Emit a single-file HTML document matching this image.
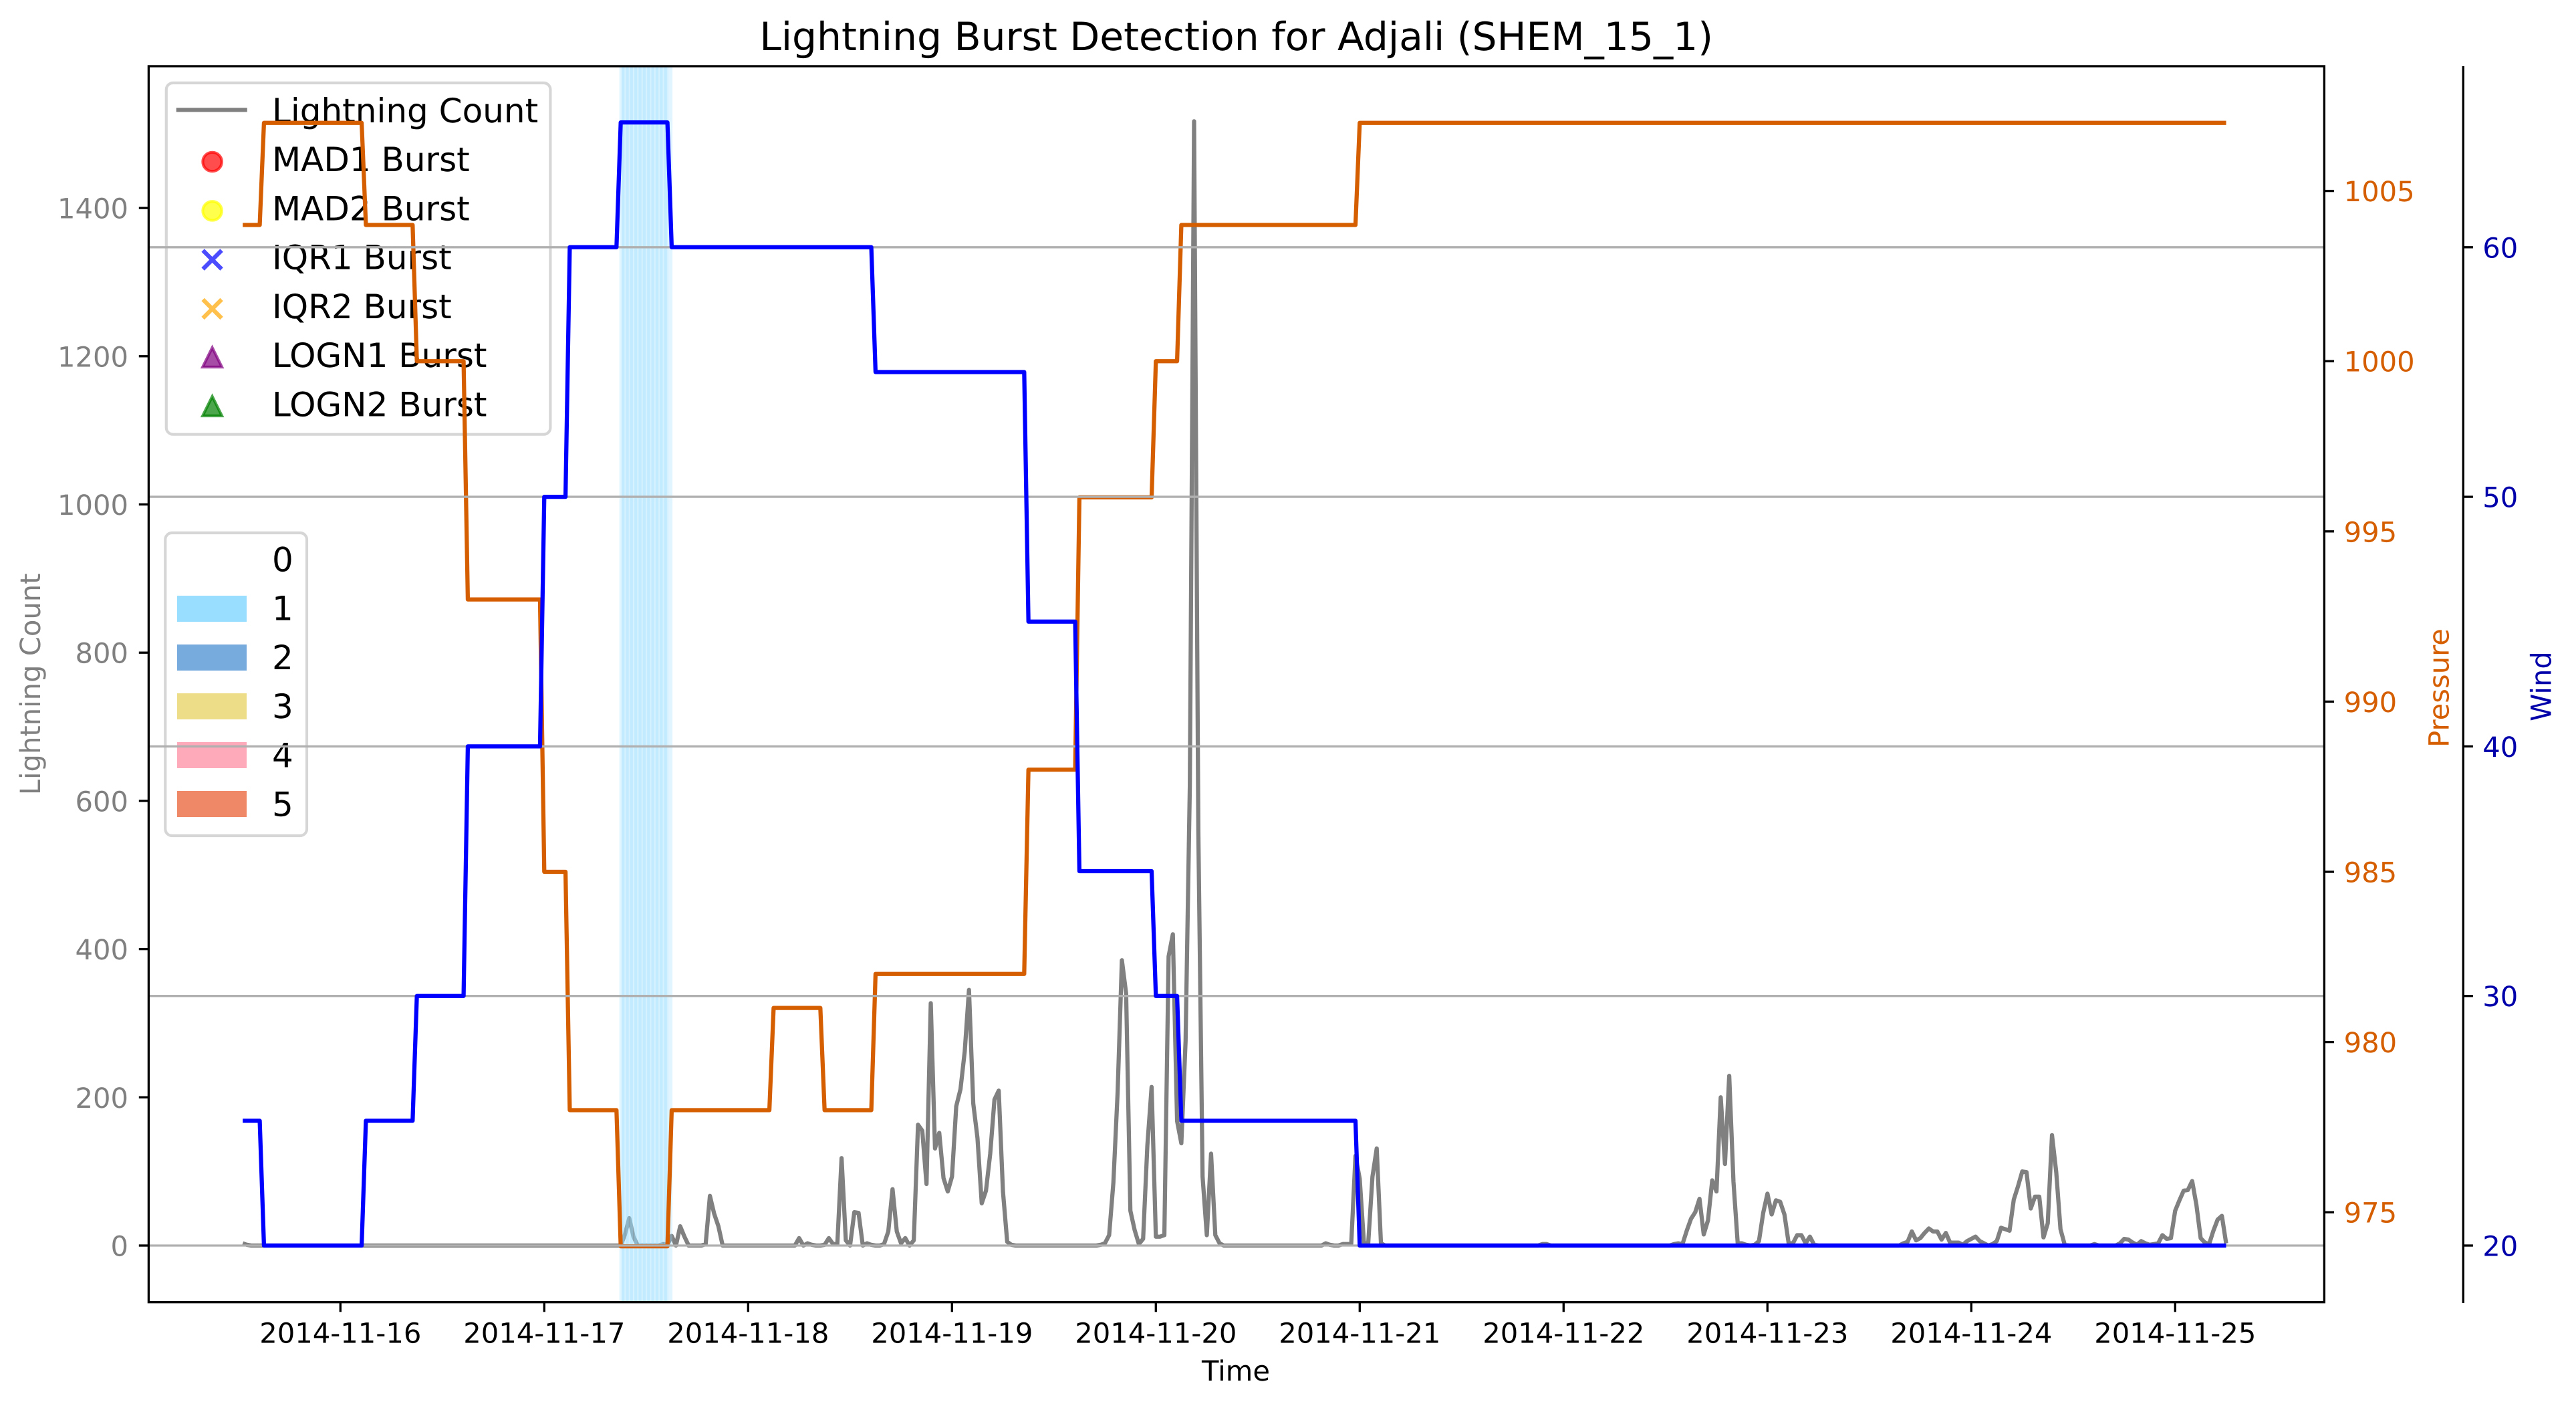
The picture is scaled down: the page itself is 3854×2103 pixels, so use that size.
<!DOCTYPE html>
<html lang="en">
<head>
<meta charset="utf-8">
<title>Lightning Burst Detection for Adjali (SHEM_15_1)</title>
<style>
html,body{margin:0;padding:0;background:#fff;}
svg{display:block;}
text{font-family:"DejaVu Sans","Liberation Sans",sans-serif;text-rendering:geometricPrecision;}
</style>
</head>
<body>
<svg id="chart" xmlns="http://www.w3.org/2000/svg" width="3854" height="2103" viewBox="0 0 3854 2103">
  <rect x="0" y="0" width="3854" height="2103" fill="#ffffff"/>
  <text x="1849.7" y="75" font-size="58.33" text-anchor="middle" fill="#000">Lightning Burst Detection for Adjali (SHEM_15_1)</text>
  <g id="lightning-layer"></g>
  <g id="shading-layer"></g>

  <g>
    <rect x="248.8" y="124" width="574.6" height="525.7" rx="10" ry="10" fill="#ffffff" fill-opacity="0.8" stroke="#d6d6d6" stroke-width="4.17"/>
    <line x1="263.7" y1="164.4" x2="369.8" y2="164.4" stroke="#808080" stroke-width="6.25"/>
    <text x="407" y="183" font-size="50">Lightning Count</text>
    <circle cx="317.6" cy="242" r="14.2" fill="#ff0000" fill-opacity="0.7" stroke="#ff0000" stroke-opacity="0.7" stroke-width="4.17"/>
    <text x="407" y="256" font-size="50">MAD1 Burst</text>
    <circle cx="317.6" cy="315.4" r="14.2" fill="#ffff00" fill-opacity="0.7" stroke="#ffff00" stroke-opacity="0.7" stroke-width="4.17"/>
    <text x="407" y="329.3" font-size="50">MAD2 Burst</text>
    <path d="M303.6 374.5 L331.6 402.5 M331.6 374.5 L303.6 402.5" stroke="#0000ff" stroke-opacity="0.7" stroke-width="6.25" fill="none"/>
    <text x="407" y="402.6" font-size="50">IQR1 Burst</text>
    <path d="M303.6 447.9 L331.6 475.9 M331.6 447.9 L303.6 475.9" stroke="#ffa500" stroke-opacity="0.7" stroke-width="6.25" fill="none"/>
    <text x="407" y="475.9" font-size="50">IQR2 Burst</text>
    <path d="M317.6 520 L332 549 L303.2 549 Z" fill="#800080" fill-opacity="0.7" stroke="#800080" stroke-opacity="0.7" stroke-width="4.17"/>
    <text x="407" y="549.2" font-size="50">LOGN1 Burst</text>
    <path d="M317.6 593 L332 622 L303.2 622 Z" fill="#008000" fill-opacity="0.7" stroke="#008000" stroke-opacity="0.7" stroke-width="4.17"/>
    <text x="407" y="622.5" font-size="50">LOGN2 Burst</text>
  </g>

  <g>
    <rect x="247.3" y="797" width="211.7" height="453" rx="10" ry="10" fill="#ffffff" fill-opacity="0.8" stroke="#d6d6d6" stroke-width="4.17"/>
    <text x="407" y="854.5" font-size="50">0</text>
    <rect x="265" y="891" width="104" height="39" fill="#99ddff"/>
    <text x="407" y="927.7" font-size="50">1</text>
    <rect x="265" y="964" width="104" height="39" fill="#77aadd"/>
    <text x="407" y="1000.9" font-size="50">2</text>
    <rect x="265" y="1037" width="104" height="39" fill="#eedd88"/>
    <text x="407" y="1074.1" font-size="50">3</text>
    <rect x="265" y="1110" width="104" height="39" fill="#ffaabb"/>
    <text x="407" y="1147.3" font-size="50">4</text>
    <rect x="265" y="1183" width="104" height="39" fill="#ee8866"/>
    <text x="407" y="1220.5" font-size="50">5</text>
  </g>

  <g id="pressure-layer"></g>
  <g id="grid-layer"></g>
  <g id="wind-layer"></g>

  <g fill="none" stroke="#000" stroke-width="3.33">
    <rect x="222.4" y="99" width="3255" height="1848.7"/>
    <line x1="3685.3" y1="99" x2="3685.3" y2="1949"/>
  </g>
  <g id="ticks-layer"></g>

  <text x="1849" y="2065" font-size="41.67" text-anchor="middle">Time</text>
  <text transform="translate(60,1023.4) rotate(-90)" font-size="41.67" text-anchor="middle" fill="#808080">Lightning Count</text>
  <text transform="translate(3663.5,1029) rotate(-90)" font-size="41.67" text-anchor="middle" fill="#d55e00">Pressure</text>
  <text transform="translate(3816.7,1026.5) rotate(-90)" font-size="41.67" text-anchor="middle" fill="#0000aa">Wind</text>
</svg>

<script>
// Half-hourly lightning counts, first sample at 2014-11-15 12:30
const lightningCounts = [
3,1,0,0,0,0,0,0,0,0,0,0,0,0,0,0,0,0,0,0,0,0,0,0,
0,0,0,0,0,0,0,0,0,0,0,0,0,0,0,0,0,0,0,0,0,0,0,0,
0,0,0,0,0,0,0,0,0,0,0,0,0,0,0,0,0,0,0,0,0,0,0,0,
0,0,0,0,0,0,0,0,0,0,0,0,0,0,0,0,0,0,15,37,12,0,0,0,
0,0,0,2,1,13,0,26,12,0,0,0,0,2,67,43,26,0,0,0,0,0,0,0,
0,0,0,0,0,0,0,0,0,0,0,10,0,3,1,0,0,1,10,2,2,118,7,0,
45,44,0,3,1,0,0,2,19,76,19,3,10,0,7,163,155,83,327,131,152,91,73,93,
188,211,262,345,192,145,57,74,124,197,209,73,5,1,0,0,0,0,0,0,0,0,0,0,
0,0,0,0,0,0,0,0,0,0,1,3,14,85,207,385,340,47,21,2,9,135,214,12,
12,14,390,420,168,138,276,620,1517,560,93,14,124,14,3,0,0,0,0,0,0,0,0,0,
0,0,0,0,0,0,0,0,0,0,0,0,0,0,0,3,1,0,0,2,2,2,121,90,
3,3,93,131,3,0,0,0,0,0,0,0,0,0,0,0,0,0,0,0,0,0,0,0,
0,0,0,0,0,0,0,0,0,0,0,0,0,0,0,0,0,0,2,2,0,0,0,0,
0,0,0,0,0,0,0,0,0,0,0,0,0,0,0,0,0,0,0,0,0,0,0,0,
0,2,3,2,20,36,45,63,15,34,88,73,200,110,229,86,3,3,1,0,1,6,44,70,
42,61,59,42,3,3,14,14,3,12,1,0,0,0,0,0,0,0,0,0,0,0,0,0,
0,0,0,0,0,0,0,3,5,19,7,10,17,23,19,19,8,17,4,4,4,1,6,9,
12,6,3,0,2,6,24,22,20,62,80,100,99,50,66,66,11,30,149,99,22,1,0,0,
0,0,0,0,2,0,0,0,0,0,3,9,8,4,1,6,3,1,2,3,14,9,10,47,
61,74,75,87,55,10,4,2,20,35,40,3
];
const lightningStartHour = -11.5;
const sampleStepHours = 0.5;

// Hours after 2014-11-16 00:00 at which each variable reaches a new value
const seriesEndHour = 222;
const pressureStart = 1004;
const pressureChangeHours = [-9, 3, 9, 15, 24, 27, 33, 39, 51, 57, 63, 81, 87, 96, 99, 120];
const pressureValues = [1007, 1004, 1000, 993, 985, 978, 974, 978, 981, 978, 982, 988, 996, 1000, 1004, 1007];
const windStart = 25;
const windChangeHours = [-9, 3, 9, 15, 24, 27, 33, 39, 63, 81, 87, 96, 99, 120];
const windValues = [20, 25, 30, 40, 50, 60, 65, 60, 55, 45, 35, 30, 25, 20];

// Storm category shading cells (half-hourly)
const categoryStartHour = 33;
const categoryCells = [1, 1, 1, 1, 1, 1, 1, 1, 1, 1, 1];

// Tick labels
const dateTickLabels = ['2014-11-16', '2014-11-17', '2014-11-18', '2014-11-19', '2014-11-20', '2014-11-21', '2014-11-22', '2014-11-23', '2014-11-24', '2014-11-25'];
const countTicks = [0, 200, 400, 600, 800, 1000, 1200, 1400];
const pressureTicks = [975, 980, 985, 990, 995, 1000, 1005];
const windTicks = [20, 30, 40, 50, 60];

const categoryColors = {1: '#99ddff', 2: '#77aadd', 3: '#eedd88', 4: '#ffaabb', 5: '#ee8866'};

const SVG_NS = 'http://www.w3.org/2000/svg';
const PLOT_LEFT = 222.4, PLOT_RIGHT = 3477.4, PLOT_TOP = 99, PLOT_BOTTOM = 1947.7, WIND_SPINE = 3685.3;

function xOfHour(h) { return 509.3 + h * (305 / 24); }
function yOfCount(v) { return 1863 - v * 1.1085; }
function yOfPressure(p) { return 285.6 + (1005 - p) * 50.92; }
function yOfWind(w) { return 1863 - (w - 20) * 37.33; }

function make(tag, attrs, parent) {
  const el = document.createElementNS(SVG_NS, tag);
  Object.keys(attrs).forEach(function (k) { el.setAttribute(k, attrs[k]); });
  parent.appendChild(el);
  return el;
}

function stepPoints(start, hours, values, yFn) {
  const pts = [[xOfHour(lightningStartHour), yFn(start)]];
  let prev = start;
  hours.forEach(function (t, i) {
    pts.push([xOfHour(t - sampleStepHours), yFn(prev)]);
    pts.push([xOfHour(t), yFn(values[i])]);
    prev = values[i];
  });
  pts.push([xOfHour(seriesEndHour), yFn(prev)]);
  return pts;
}

function toPointString(pts) {
  return pts.map(function (p) { return p[0].toFixed(2) + ',' + p[1].toFixed(2); }).join(' ');
}

const lineStyle = {fill: 'none', 'stroke-width': 6.25, 'stroke-linejoin': 'round', 'stroke-linecap': 'butt'};

// Lightning line
const lightningPts = lightningCounts.map(function (v, i) {
  return [xOfHour(lightningStartHour + i * sampleStepHours), yOfCount(v)];
});
const lightningLine = make('polyline', Object.assign({points: toPointString(lightningPts), stroke: '#808080'}, lineStyle), document.getElementById('lightning-layer'));



// Category shading
const shadingLayer = document.getElementById('shading-layer');
const spanLeft = xOfHour(categoryStartHour) - 2;
const spanRight = xOfHour(categoryStartHour + categoryCells.length * sampleStepHours) + 7.5;
const shadingBase = make('rect', {x: spanLeft, y: PLOT_TOP, width: spanRight - spanLeft, height: PLOT_BOTTOM - PLOT_TOP, fill: categoryColors[categoryCells[0]], 'fill-opacity': 0.3}, shadingLayer);


const shadingInner = make('rect', {x: spanLeft + 3.3, y: PLOT_TOP, width: spanRight - spanLeft - 9.3, height: PLOT_BOTTOM - PLOT_TOP, fill: categoryColors[categoryCells[0]], 'fill-opacity': 0.14}, shadingLayer);


categoryCells.forEach(function (c, i) {
  const cell = make('rect', {
    x: xOfHour(categoryStartHour + i * sampleStepHours) + 1.3,
    y: PLOT_TOP,
    width: 4.3,
    height: PLOT_BOTTOM - PLOT_TOP,
    fill: categoryColors[c],
    'fill-opacity': 0.3
  }, shadingLayer);
  
  
});

// Pressure line
const pressureLine = make('polyline', Object.assign({points: toPointString(stepPoints(pressureStart, pressureChangeHours, pressureValues, yOfPressure)), stroke: '#d55e00'}, lineStyle), document.getElementById('pressure-layer'));



// Wind gridlines
const gridLayer = document.getElementById('grid-layer');
windTicks.forEach(function (w) {
  const g = make('line', {x1: PLOT_LEFT, x2: PLOT_RIGHT, y1: yOfWind(w), y2: yOfWind(w), stroke: '#b0b0b0', 'stroke-width': 3.33}, gridLayer);
  
  
});

// Wind line
const windLine = make('polyline', Object.assign({points: toPointString(stepPoints(windStart, windChangeHours, windValues, yOfWind)), stroke: '#0000ff'}, lineStyle), document.getElementById('wind-layer'));



// Ticks and labels
const ticksLayer = document.getElementById('ticks-layer');
const tickStyle = {stroke: '#000', 'stroke-width': 3.33};

dateTickLabels.forEach(function (label, i) {
  const x = xOfHour(i * 24);
  const t = make('line', Object.assign({x1: x, x2: x, y1: PLOT_BOTTOM, y2: PLOT_BOTTOM + 14.6}, tickStyle), ticksLayer);
  
  
  const l = make('text', {x: x, y: 2008.3, 'font-size': 41.67, 'text-anchor': 'middle', fill: '#000'}, ticksLayer);
  l.textContent = label;
  
  
});

countTicks.forEach(function (v) {
  const y = yOfCount(v);
  const t = make('line', Object.assign({x1: PLOT_LEFT - 14.6, x2: PLOT_LEFT, y1: y, y2: y}, tickStyle), ticksLayer);
  
  
  const l = make('text', {x: 192, y: y + 15.5, 'font-size': 41.67, 'text-anchor': 'end', fill: '#808080'}, ticksLayer);
  l.textContent = String(v);
  
  
});

pressureTicks.forEach(function (v) {
  const y = yOfPressure(v);
  const t = make('line', Object.assign({x1: PLOT_RIGHT, x2: PLOT_RIGHT + 14.6, y1: y, y2: y}, tickStyle), ticksLayer);
  
  
  const l = make('text', {x: 3506.6, y: y + 15.5, 'font-size': 41.67, fill: '#d55e00'}, ticksLayer);
  l.textContent = String(v);
  
  
});

windTicks.forEach(function (v) {
  const y = yOfWind(v);
  const t = make('line', Object.assign({x1: WIND_SPINE, x2: WIND_SPINE + 14.6, y1: y, y2: y}, tickStyle), ticksLayer);
  
  
  const l = make('text', {x: 3714.2, y: y + 15.5, 'font-size': 41.67, fill: '#0000aa'}, ticksLayer);
  l.textContent = String(v);
  
  
});
</script>
</body>
</html>
